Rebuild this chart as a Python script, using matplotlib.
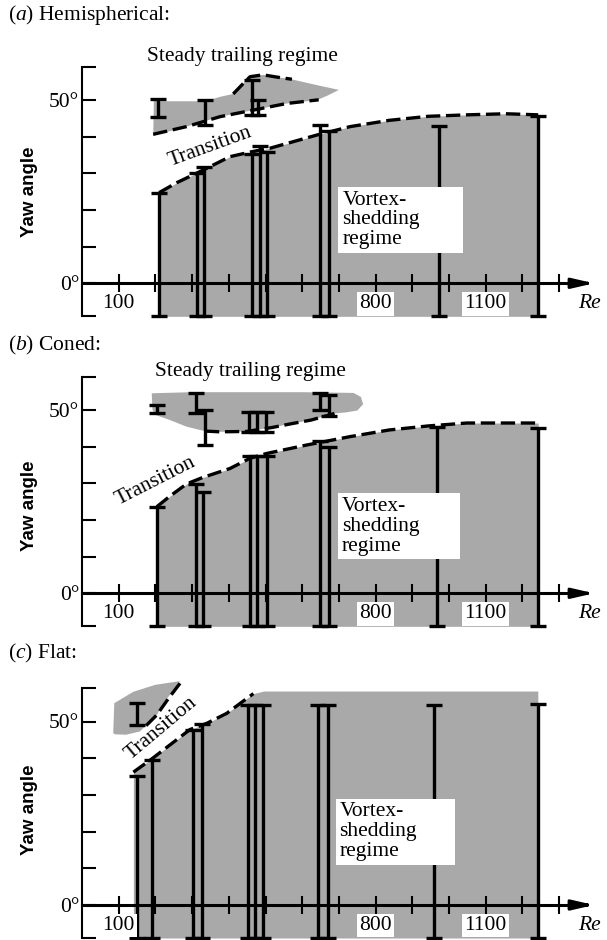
import numpy as np
import matplotlib.pyplot as plt
from matplotlib.patches import Rectangle

plt.rcParams['font.family'] = ['Liberation Serif', 'DejaVu Serif']
plt.rcParams['mathtext.fontset'] = 'custom'
plt.rcParams['mathtext.rm'] = 'Liberation Serif'
plt.rcParams['mathtext.it'] = 'Liberation Serif:italic'

GRAY = '#a9a9a9'
Y_LO, Y_HI = -9, 59

x_ticks = list(range(100, 1400, 100))
x_labels = ['100', '', '', '', '', '', '', '800', '', '', '1100', '', '']
y_ticks = [-9, 0, 10, 20, 30, 40, 50, 59]
y_labels = ['', '0°', '', '', '', '', '50°', '']

# (a) Hemispherical
a_bar_re = [210, 312, 333, 462, 485, 503, 648, 673, 972, 1243]
a_bar_top = [24.7, 30, 31.8, 35.3, 37.3, 35.9, 43.2, 41.4, 42.9, 45.5]
a_edge_re = [210, 260, 331, 403, 460, 512, 640, 731, 837, 943, 1049, 1155, 1243]
a_edge_deg = [24.7, 27.5, 30.9, 34.5, 35.8, 36.8, 40.4, 42.7, 44.4, 45.5, 45.9, 46.2, 45.9]
a_steady_re = [196, 208, 335, 376, 412, 440, 458, 494, 530, 570, 640, 700, 670, 640, 558, 467, 376, 285, 194]
a_steady_deg = [50, 49.6, 49.6, 50.8, 51.6, 54.5, 56.3, 56.8, 56.2, 55.6, 54, 52.7, 51.2, 49.9, 49, 47.2, 45.4, 42.7, 40.2]
a_up_re = [412, 440, 458, 494, 530, 572]
a_up_deg = [51.6, 54.5, 56.3, 56.8, 56.2, 55.6]
a_lo_re = [194, 285, 376, 467, 558, 645]
a_lo_deg = [40.6, 42.7, 45.4, 47.2, 49, 50]
a_st_re = [208, 335, 462, 480]
a_st_lo = [45.2, 43.1, 45.9, 45.9]
a_st_hi = [50.2, 50, 55.4, 50]

# (b) Coned
b_bar_re = [204, 310, 330, 458, 478, 503, 648, 672, 968, 1243]
b_bar_top = [23.6, 29.8, 27.7, 37.3, 37.3, 37.3, 41.6, 40, 45.3, 45]
b_edge_re = [204, 240, 285, 330, 403, 458, 503, 612, 731, 837, 943, 1049, 1243]
b_edge_deg = [23.6, 26.5, 29.8, 31.6, 34, 36.8, 38.1, 40.4, 42.7, 44.5, 45.6, 46.4, 46.4]
b_steady_re = [190, 300, 450, 600, 740, 760, 766, 750, 720, 688, 624, 570, 519, 449, 376, 330, 285, 240, 200, 192]
b_steady_deg = [54.5, 54.8, 54.8, 54.8, 54.6, 53.5, 51.5, 49.8, 49.3, 49, 47.2, 46.2, 45.2, 44.1, 44, 44.3, 45.4, 47.2, 48.6, 50]
b_lo_re = [335, 376, 449, 519, 570, 624, 688]
b_lo_deg = [44.2, 44, 44.1, 45.2, 46.2, 47.2, 49]
b_st_re = [204, 311, 335, 455, 478, 500, 648, 673]
b_st_lo = [49, 49, 40.4, 44, 44, 44, 50, 48.4]
b_st_hi = [51.3, 54.5, 50, 49.5, 49.5, 49.5, 54.5, 54]

# (c) Flat
c_bar_re = [149, 190, 303, 326, 453, 471, 494, 644, 671, 958, 1242]
c_bar_top = [35.1, 39.6, 47.7, 49.3, 54.5, 54.5, 54.5, 54.5, 54.5, 54.5, 54.7]
c_edge_re = [140, 190, 294, 340, 394, 467, 495, 1242]
c_edge_deg = [36.2, 39.8, 47.8, 49.5, 52.2, 57.6, 58.3, 58.3]
c_dash_re = [140, 190, 294, 340, 394, 467]
c_dash_deg = [36.2, 39.8, 47.8, 49.5, 52.2, 57.6]
c_steady_re = [85, 88, 140, 200, 267, 250, 225, 204, 180, 158, 120, 90]
c_steady_deg = [46.8, 55, 58.1, 60, 61, 58.5, 55.5, 51.8, 49.5, 47.3, 46.4, 46.5]
c_lo_re = [267, 235, 204, 168]
c_lo_deg = [60.4, 56.2, 51.8, 48.2]
c_st_re = [150]
c_st_lo = [49.1]
c_st_hi = [55]

PX_RE = 0.367   # pixels per unit Re
PX_DEG = 3.67   # pixels per degree
FW, FH = 607, 940


def ranges(ax, xs, lo, hi, lw=2.4, cap=5.5):
    lo = np.asarray(lo, float)
    hi = np.asarray(hi, float)
    c = ax.errorbar(xs, (lo + hi) / 2, yerr=(hi - lo) / 2, fmt='none', ecolor='black',
                    elinewidth=lw, capsize=cap, capthick=lw, zorder=3)
    for art in list(c.lines[1]) + list(c.lines[2]):
        art.set_clip_on(False)


def dashed(ax, xs, ys):
    ax.plot(xs, ys, color='black', lw=2.4, dashes=(4.3, 1.7), zorder=2,
            solid_capstyle='butt', clip_on=False)


def make_axes(zero_px):
    bottom = 1 - (zero_px + 9 * PX_DEG) / FH
    ax = fig.add_axes([82 / FW, bottom, 1428 * PX_RE / FW, 71 * PX_DEG / FH])
    ax.set_xlim(0, 1428)
    ax.set_ylim(-9, 62)
    ax.patch.set_visible(False)
    for s in ('top', 'right'):
        ax.spines[s].set_visible(False)
    ax.spines['left'].set_position(('data', 0))
    ax.spines['left'].set_bounds(Y_LO, Y_HI)
    ax.spines['left'].set_linewidth(1.5)
    ax.spines['bottom'].set_position(('data', 0))
    ax.spines['bottom'].set_bounds(0, 1370)
    ax.spines['bottom'].set_linewidth(2.2)
    ax.spines['bottom'].set_zorder(4)
    ax.set_xticks(x_ticks, x_labels)
    ax.tick_params(axis='x', direction='inout', length=13, width=1.5, pad=1.5, labelsize=15.5)
    ax.set_yticks(y_ticks, y_labels)
    ax.tick_params(axis='y', direction='in', length=9.8, width=1.5, pad=2, labelsize=15.5)
    for lab in ax.get_xticklabels():
        lab.set_bbox(dict(facecolor='white', edgecolor='none', pad=1.5))
    ax.xaxis.set_zorder(4)
    ax.annotate('', xy=(1395, 0), xytext=(1360, 0), annotation_clip=False,
                arrowprops=dict(arrowstyle='-|>,head_length=1.3,head_width=0.3',
                                color='black', lw=2.2, shrinkA=0, shrinkB=0))
    ax.text(1353, -5.6, 'Re', style='italic', fontsize=15.5, ha='left', va='center')
    return ax


def vortex_label(ax, box, tx, ty):
    ax.add_patch(Rectangle((box[0], box[1]), box[2] - box[0], box[3] - box[1],
                           facecolor='white', edgecolor='none', zorder=5))
    ax.text(tx, ty, 'Vortex-\nshedding\nregime', ha='left', va='center',
            fontsize=15.5, linespacing=1.05, zorder=6)


fig = plt.figure(figsize=(FW / 100, FH / 100), dpi=100)

# ---------- (a)
ax = make_axes(283.3)
ax.fill_between(a_edge_re, Y_LO, a_edge_deg, color=GRAY, lw=0, zorder=1)
dashed(ax, a_edge_re, a_edge_deg)
ax.fill(a_steady_re, a_steady_deg, color=GRAY, lw=0, zorder=1)
dashed(ax, a_up_re, a_up_deg)
dashed(ax, a_lo_re, a_lo_deg)
ranges(ax, a_bar_re, [Y_LO] * len(a_bar_re), a_bar_top)
ranges(ax, a_st_re, a_st_lo, a_st_hi)
ax.text(436, 61.7, 'Steady trailing regime', ha='center', va='center', fontsize=15.5)
ax.text(349, 37.2, 'Transition', rotation=20, ha='center', va='center', fontsize=15.5)
vortex_label(ax, (698, 8.3, 1038, 26.3), 710, 17.3)
ax.text(-144, 25, 'Yaw angle', rotation=90, ha='center', va='center', fontsize=13.5,
        family='Liberation Sans', weight='bold')
fig.text(8 / FW, 1 - 15 / FH, r'($\mathit{a}$) Hemispherical:', fontsize=15.5, va='center')

# ---------- (b)
ax = make_axes(593.3)
ax.fill_between(b_edge_re, Y_LO, b_edge_deg, color=GRAY, lw=0, zorder=1)
dashed(ax, b_edge_re, b_edge_deg)
ax.fill(b_steady_re, b_steady_deg, color=GRAY, lw=0, zorder=1)
dashed(ax, b_lo_re, b_lo_deg)
ranges(ax, b_bar_re, [Y_LO] * len(b_bar_re), b_bar_top)
ranges(ax, b_st_re, b_st_lo, b_st_hi)
ax.text(458, 60.4, 'Steady trailing regime', ha='center', va='center', fontsize=15.5)
ax.text(200, 30.7, 'Transition', rotation=27, ha='center', va='center', fontsize=15.5)
vortex_label(ax, (698, 9.3, 1030, 27.2), 708, 18.2)
ax.text(-144, 23.8, 'Yaw angle', rotation=90, ha='center', va='center', fontsize=13.5,
        family='Liberation Sans', weight='bold')
fig.text(8 / FW, 1 - 345 / FH, r'($\mathit{b}$) Coned:', fontsize=15.5, va='center')

# ---------- (c)
ax = make_axes(905)
ax.fill_between(c_edge_re, Y_LO, c_edge_deg, color=GRAY, lw=0, zorder=1)
dashed(ax, c_dash_re, c_dash_deg)
ax.fill(c_steady_re, c_steady_deg, color=GRAY, lw=0, zorder=1, clip_on=False)
dashed(ax, c_lo_re, c_lo_deg)
ranges(ax, c_bar_re, [Y_LO] * len(c_bar_re), c_bar_top)
ranges(ax, c_st_re, c_st_lo, c_st_hi)
ax.text(217, 48.2, 'Transition', rotation=40, ha='center', va='center', fontsize=15.5)
vortex_label(ax, (692, 10.9, 1016, 29), 701, 20)
ax.text(-144, 26, 'Yaw angle', rotation=90, ha='center', va='center', fontsize=13.5,
        family='Liberation Sans', weight='bold')
fig.text(8 / FW, 1 - 653 / FH, r'($\mathit{c}$) Flat:', fontsize=15.5, va='center')

fig.savefig('out.png', dpi=100)
